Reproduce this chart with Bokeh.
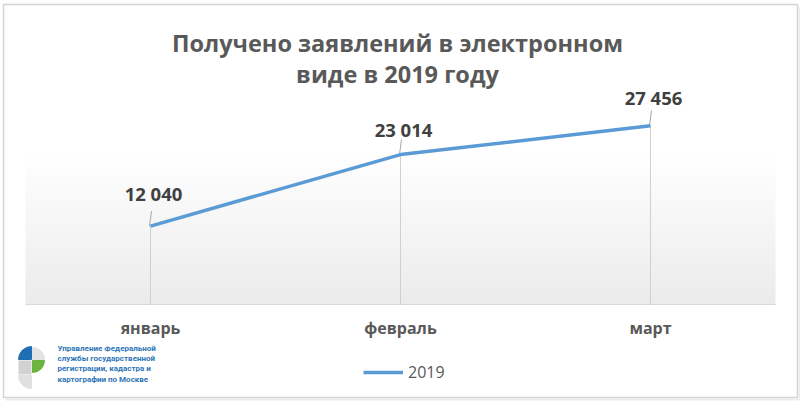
import numpy as np
from bokeh.plotting import figure
from bokeh.models import (Range1d, LabelSet, Legend, LegendItem, ColumnDataSource)
from bokeh.core.properties import value
from bokeh.embed import file_html
from bokeh.resources import INLINE

# ---- data ----
months = ["январь", "февраль", "март"]
values_2019 = [12040, 23014, 27456]
value_labels = ["12 040", "23 014", "27 456"]
series_name = "2019"
title_lines = ["Получено заявлений в электронном", "виде в 2019 году"]
org_lines = ["Управление Федеральной", "службы государственной",
             "регистрации, кадастра и", "картографии по Москве"]

# ---- layout constants (pixels inside the figure) ----
W, H = 800, 401
PLOT_L, PLOT_R = 25, 775        # plot area left/right
BASE, TOP = 304, 76             # baseline and top of plot area
Y_MAX = 35000
CAT_W = (PLOT_R - PLOT_L) / len(months)
PX = Y_MAX / (BASE - TOP)       # data units per vertical pixel

def fx(px):
    return (px - PLOT_L) / CAT_W

def fy(py):
    return (BASE - py) * PX

p = figure(width=W, height=H,
           x_range=Range1d(fx(0), fx(W)), y_range=Range1d(fy(H), fy(0)),
           output_backend="svg", toolbar_location=None,
           min_border=0, min_border_left=0, min_border_right=0,
           min_border_top=0, min_border_bottom=0)
p.axis.visible = False
p.grid.visible = False
p.outline_line_color = None
p.background_fill_color = "white"
p.border_fill_color = "white"

# outer frame of the picture
p.quad(left=[fx(3)], right=[fx(797)], top=[fy(4)], bottom=[fy(397)],
       fill_color="white", line_color="#d4d4d4", line_width=1.5, level="image")
p.segment(x0=[fx(799)], y0=[fy(6)], x1=[fx(799)], y1=[fy(399)],
          line_color="#ececec", line_width=2)
p.segment(x0=[fx(5)], y0=[fy(399)], x1=[fx(799)], y1=[fy(399)],
          line_color="#ececec", line_width=2)

# plot-area gradient (white top -> light gray bottom)
N = 200
img = np.zeros((N, 1), dtype=np.uint32)
view = img.view(dtype=np.uint8).reshape((N, 1, 4))
for i in range(N):
    yv = (i + 0.5) / N * Y_MAX
    t = max(0.0, 1 - yv / 23500)
    c = int(round(255 - 20 * t))
    view[i, 0] = [c, c, c, 255]
p.image_rgba(image=[img], x=0, y=0, dw=len(months), dh=Y_MAX)

xpos = [i + 0.5 for i in range(len(months))]
src = ColumnDataSource(dict(x=xpos, v=values_2019, zero=[0] * len(months),
                            lab=value_labels, m=months))
src.data["lead_top"] = [v + 15 * PX for v in values_2019]
src.data["lead_x0"] = [x + 1 / CAT_W for x in xpos]
src.data["lead_x1"] = [x - 1 / CAT_W for x in xpos]
src.data["label_dy"] = [33, 25, 28]      # label placement (style)
src.data["cat_y"] = [fy(BASE + 23)] * len(months)

# baseline
p.segment(x0=[0], y0=[0], x1=[len(months)], y1=[0], line_color="#d9d9d9", line_width=1)
# drop lines
p.segment(x0="x", y0="zero", x1="x", y1="v", source=src,
          line_color="#d0d0d0", line_width=1)
# leader lines
p.segment(x0="lead_x0", y0="lead_top", x1="lead_x1", y1="v", source=src,
          line_color="#a6a6a6", line_width=1)

line = p.line(x="x", y="v", source=src, line_color="#5b9bd5", line_width=3.5)

# value labels
p.add_layout(LabelSet(x="x", y="v", text="lab", source=src, x_offset=3,
                      y_offset="label_dy", text_align="center",
                      text_baseline="middle", text_font=value("Open Sans"),
                      text_font_style="bold", text_font_size="18.5px",
                      text_color="#404040"))

# category labels
p.text(x="x", y="cat_y", text="m", source=src, text_align="center",
       text_baseline="middle", text_font=value("Open Sans"),
       text_font_style="bold", text_font_size="16px", text_color="#595959")

# title
p.text(x=[fx(397)] * 2, y=[fy(42), fy(73)], text=title_lines,
       text_align="center", text_baseline="middle", text_font=value("Open Sans"),
       text_font_style="bold", text_font_size="23.5px", text_color="#595959")

# legend
legend = Legend(items=[LegendItem(label=series_name, renderers=[line])],
                location=(363, 18), orientation="horizontal",
                border_line_color=None, background_fill_alpha=0,
                label_text_font="Open Sans", label_text_font_size="16px",
                label_text_color="#595959", glyph_width=40, glyph_height=20,
                padding=0, margin=0, label_standoff=5)
p.add_layout(legend)

# logo (Rosreestr mark)
p.wedge(x=[fx(31)], y=[fy(359)], radius=13, radius_units="screen",
        start_angle=np.pi / 2, end_angle=np.pi, color="#1f6fb4")
p.wedge(x=[fx(32)], y=[fy(359)], radius=12, radius_units="screen",
        start_angle=0, end_angle=np.pi / 2, color="#e3e3e3")
p.quad(left=[fx(18)], right=[fx(31)], top=[fy(360)], bottom=[fy(374)],
       color="#d2d2d2", line_color=None)
p.wedge(x=[fx(32)], y=[fy(360)], radius=12, radius_units="screen",
        start_angle=-np.pi / 2, end_angle=0, color="#6cb33f")
p.wedge(x=[fx(31)], y=[fy(375)], radius=13, radius_units="screen",
        start_angle=np.pi, end_angle=1.5 * np.pi, color="#e0e0e0")

p.text(x=[fx(57)] * 4, y=[fy(348 + 10.2 * i) for i in range(4)], text=org_lines,
       text_align="left", text_baseline="middle", text_font=value("Roboto"),
       text_font_style="bold", text_font_size="8px", text_color="#2e75b6")

open("out.html", "w").write(file_html(p, INLINE))
